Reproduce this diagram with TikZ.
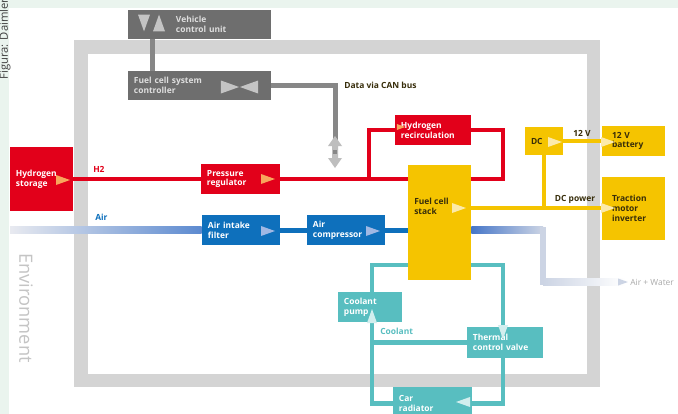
\documentclass[tikz,border=0pt]{standalone}
\usepackage{fontspec}
\setmainfont{Open Sans}
\usepackage{tikz}

\definecolor{mint}{RGB}{234,244,238}
\definecolor{framegray}{RGB}{212,212,212}
\definecolor{envgray}{RGB}{196,196,196}
\definecolor{ctrlgray}{RGB}{110,110,110}
\definecolor{ctrltext}{RGB}{222,222,222}
\definecolor{busgray}{RGB}{135,135,135}
\definecolor{cangray}{RGB}{190,190,190}
\definecolor{h2red}{RGB}{226,0,26}
\definecolor{airblue}{RGB}{14,112,188}
\definecolor{airmid}{RGB}{92,138,208}
\definecolor{airfade}{RGB}{232,234,240}
\definecolor{exhblue}{RGB}{70,118,200}
\definecolor{exhgray}{RGB}{204,212,228}
\definecolor{exhtext}{RGB}{170,170,170}
\definecolor{fcyellow}{RGB}{245,196,0}
\definecolor{darktext}{RGB}{55,45,10}
\definecolor{coolteal}{RGB}{88,190,192}
\definecolor{tiporange}{RGB}{248,166,92}
\definecolor{tipblue}{RGB}{160,184,228}
\definecolor{tipyellow}{RGB}{252,234,170}
\definecolor{tipteal}{RGB}{210,238,238}
\definecolor{tipgray}{RGB}{196,196,196}

\pgfdeclarelayer{backdrop}
\pgfdeclarelayer{links}
\pgfsetlayers{backdrop,links,main}

% small flow arrow inside a block
\newcommand\flowtip[4]{\fill[shift={(#2,#3)},rotate=#4,#1] (-7,-5) -- (7,0) -- (-7,5) -- cycle;}

\begin{document}
\begin{tikzpicture}[x=0.025cm,y=-0.025cm,
  box/.style={inner xsep=0.15cm,inner ysep=0pt,align=left,
    font=\fontsize{6}{7}\selectfont\bfseries},
  redbox/.style={box,fill=h2red,text=white},
  bluebox/.style={box,fill=airblue,text=white},
  yelbox/.style={box,fill=fcyellow,text=darktext},
  tealbox/.style={box,fill=coolteal,text=white},
  ctrlbox/.style={box,fill=ctrlgray,text=ctrltext},
  lbl/.style={inner sep=0pt,font=\fontsize{6}{7}\selectfont\bfseries},
  busline/.style={draw=busgray,line width=0.125cm},
  h2line/.style={draw=h2red,line width=0.1cm},
  airline/.style={draw=airblue,line width=0.125cm},
  dcline/.style={draw=fcyellow,line width=0.1cm},
  coolline/.style={draw=coolteal,line width=0.11cm}]
\useasboundingbox (0,0) rectangle (678,414);

% blocks
\node[ctrlbox,text width=3.275cm,minimum height=0.725cm] (vcu) at (199.5,24.5)
  {\hspace*{1.05cm}Vehicle\\\hspace*{1.05cm}control unit};
\node[ctrlbox,text width=3.275cm,minimum height=0.725cm] (fcsc) at (199.5,85.5)
  {Fuel cell system\\controller};
\node[redbox,text width=1.275cm,minimum height=1.6cm] (hstore) at (41.5,179) {Hydrogen\\storage};
\node[redbox,text width=1.675cm,minimum height=0.75cm] (preg) at (240.5,179) {Pressure\\regulator};
\node[redbox,text width=1.6cm,minimum height=0.75cm] (hrec) at (433,130) {Hydrogen\\recirculation};
\node[yelbox,text width=1.275cm,minimum height=2.875cm] (stack) at (439.5,222.5) {};
\node[lbl,text=darktext,anchor=west,align=left] (stacktxt) at (414,206) {Fuel cell\\stack};
\node[yelbox,text width=0.65cm,minimum height=0.7cm] (dc) at (544,141) {DC};
\node[yelbox,inner xsep=0.25cm,text width=1.075cm,minimum height=0.725cm] (batt) at (633.5,141) {12 V\\battery};
\node[yelbox,inner xsep=0.25cm,text width=1.075cm,minimum height=1.575cm] (inv) at (633.5,208.5) {Traction\\motor\\inverter};
\node[bluebox,text width=1.65cm,minimum height=0.75cm] (filter) at (241,230) {Air intake\\filter};
\node[bluebox,text width=1.65cm,minimum height=0.75cm] (comp) at (346,230) {Air\\compressor};
\node[tealbox,text width=1.3cm,minimum height=0.75cm] (pump) at (370,307) {Coolant\\pump};
\node[tealbox,text width=1.6cm,minimum height=0.775cm] (valve) at (505,342.5) {Thermal\\control valve};
\node[tealbox,text width=1.675cm,minimum height=0.825cm] (rad) at (432.5,403.5) {Car\\radiator};

% labels
\node[lbl,text=h2red,anchor=west] (h2lbl) at (93,169) {H2};
\node[lbl,text=airblue,anchor=west] (airlbl) at (95,217) {Air};
\node[lbl,text=coolteal,anchor=west] (coollbl) at (380,331) {Coolant};
\node[lbl,text=darktext,anchor=west] (canlbl) at (344,85) {Data via CAN bus};
\node[lbl,text=darktext] (v12lbl) at (582,133) {12 V};
\node[lbl,text=darktext] (dcplbl) at (575,199) {DC power};
\node[lbl,text=exhtext,font=\fontsize{6}{7}\selectfont,anchor=west] (exhlbl) at (630,282) {Air + Water};

% bends
\coordinate (bus) at (152,55);
\coordinate (canend) at (335,142);
\coordinate (canio) at (335,152);
\coordinate (h2a) at (369,179);
\coordinate (h2b) at (503,179);
\coordinate (dcj) at (544,208);
\coordinate (airin) at (10,230);
\coordinate (exA) at (543,230);
\coordinate (exB) at (543,282);
\coordinate (exC) at (625,282);
\coordinate (exS) at (stack.east |- exA);
\coordinate (airS) at (filter.west |- airin);
\coordinate (ctl) at (372,265);
\coordinate (ctr) at (503,265);

\begin{pgfonlayer}{backdrop}
\fill[mint] (0,0) rectangle (678,414);
\fill[white] (9,8) rectangle (678,414);
\draw[framegray,line width=0.325cm] (81,47) rectangle (593,380);
\node[rotate=-90,text=envgray,font=\fontsize{13}{13}\selectfont] (env) at (26,308) {Environment};
\node[rotate=90,text=black!75,font=\fontsize{8}{8}\selectfont] (credit) at (5,39) {Figura: Daimler};
\end{pgfonlayer}

\begin{pgfonlayer}{links}
% control
\draw[busline] (vcu.south -| bus) -- (fcsc.north -| bus);
\draw[busline] (fcsc.east) -| (canend);
% hydrogen
\draw[h2line] (hstore.east) -- (preg.west);
\draw[h2line] (preg.east) -- (preg.east -| stack.west);
\draw[h2line] (h2a) |- (hrec.west);
\draw[h2line] (hrec.east) -| (h2b) -- (h2b -| stack.east);
% air
\shade[left color=airfade,right color=airmid] ([yshift=2.2pt]airin) rectangle ([yshift=-2.2pt]airS);
\draw[airline] (filter.east) -- (comp.west);
\draw[airline] (comp.east) -- (comp.east -| stack.west);
\shade[left color=exhblue,right color=exhgray] ([yshift=2.2pt]exS) rectangle ([yshift=-2.2pt]exA);
\fill[exhgray] ([xshift=-2.2pt,yshift=2.2pt]exA) rectangle ([xshift=2.2pt,yshift=-2.2pt]exB);
\shade[left color=exhgray,right color=white] ([yshift=2.2pt]exB) rectangle ([yshift=-2.2pt]exC);
% electric
\draw[dcline] (dc.east) -- (batt.west);
\draw[dcline] (dc.south) -- (dcj);
\draw[dcline] (stack.east |- dcj) -- (inv.west |- dcj);
% coolant
\draw[coolline] (pump.north -| ctl) -- (ctl) -- (ctr) -- (valve.north -| ctr);
\draw[coolline] (valve.south -| ctr) -- (ctr |- rad.east) -- (rad.east);
\draw[coolline] (pump.south -| ctl) -- (ctl |- rad.west) -- (rad.west);
\draw[coolline] (ctl |- valve.west) -- (valve.west);
\end{pgfonlayer}

% flow arrows
\flowtip{tipgray,scale=1.2}{144}{23}{-90}
\flowtip{tipgray,scale=1.2}{159}{23}{90}
\flowtip{tipgray,scale=1.3}{230}{87}{0}
\flowtip{tipgray,scale=1.3}{249}{87}{180}
\flowtip{tiporange}{63}{180}{0}
\flowtip{tiporange}{268}{179}{0}
\flowtip{tiporange,scale=0.6}{401}{127}{0}
\flowtip{tipblue}{268}{231}{0}
\flowtip{tipblue}{373}{231}{0}
\flowtip{tipyellow}{459}{208}{0}
\flowtip{tipyellow}{555}{142}{0}
\flowtip{tipyellow}{608}{142}{0}
\flowtip{tipyellow}{608}{208}{0}
\flowtip{tipteal}{372}{316}{90}
\flowtip{tipteal}{503}{332}{-90}
\flowtip{tipteal}{463}{402}{180}
\flowtip{exhgray,scale=0.7}{623}{282}{0}
\fill[cangray,shift={(canio)}] (0,-16) -- (7,-6) -- (3,-6) -- (3,6) -- (7,6) -- (0,16)
  -- (-7,6) -- (-3,6) -- (-3,-6) -- (-7,-6) -- cycle;
\fill[busgray,shift={(canio)}] (-2,-2) rectangle (2,2);
\end{tikzpicture}
\end{document}
